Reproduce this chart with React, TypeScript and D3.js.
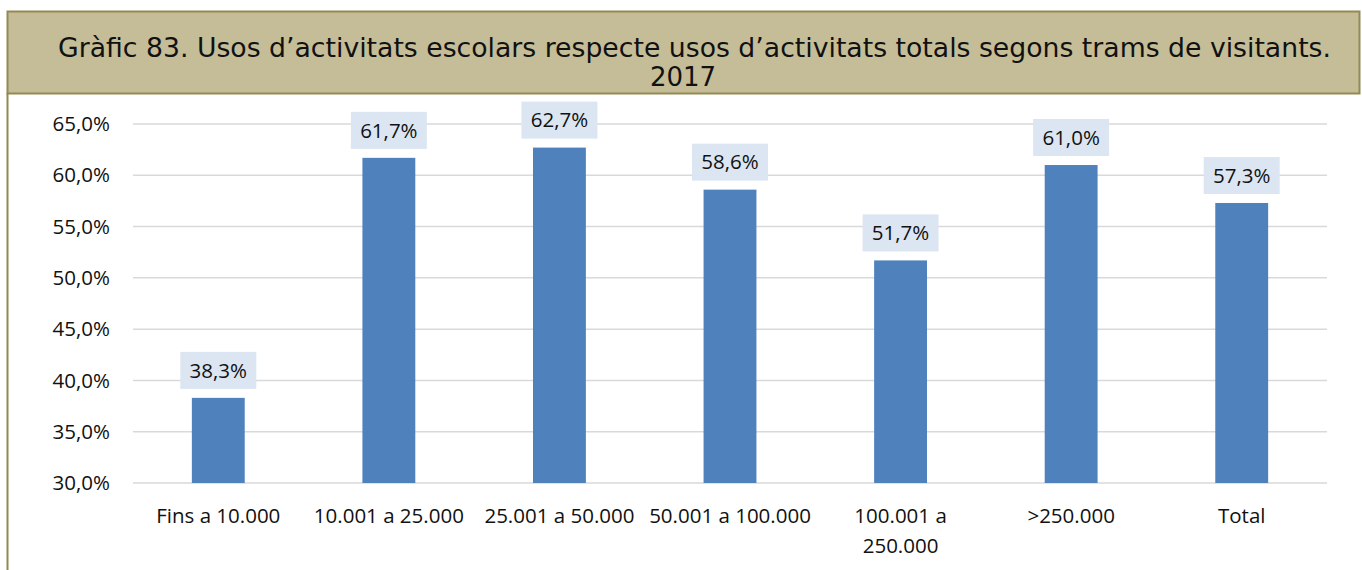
import React from "react";
import * as d3 from "d3";

const categories: string[][] = [
  ["Fins a 10.000"],
  ["10.001 a 25.000"],
  ["25.001 a 50.000"],
  ["50.001 a 100.000"],
  ["100.001 a", "250.000"],
  [">250.000"],
  ["Total"],
];
const values: number[] = [38.3, 61.7, 62.7, 58.6, 51.7, 61.0, 57.3];
const yTicks: number[] = [30, 35, 40, 45, 50, 55, 60, 65];
const titleLines: string[] = [
  "Gràfic 83. Usos d’activitats escolars respecte usos d’activitats totals segons trams de visitants.",
  "2017",
];

const W = 1362;
const H = 570;
const fmt = (v: number) => v.toFixed(1).replace(".", ",") + "%";
const bodyFont = "'Open Sans', 'Noto Sans', sans-serif";
const fs = 20.5;

export default function App() {
  const x = d3
    .scaleBand<number>()
    .domain(d3.range(categories.length))
    .range([133, 1327]);
  const y = d3.scaleLinear().domain([30, 65]).range([483, 124]);
  const bandX = (i: number) => (x(i) as number) + x.bandwidth() / 2;
  const bw = x.bandwidth() * 0.31;

  return (
    <svg
      width={W}
      height={H}
      style={{ position: "absolute", left: 0, top: 0, background: "#fff" }}
    >
      {/* title box */}
      <rect x={7.5} y={11.5} width={1352} height={82} fill="#C4BD97" stroke="#938953" strokeWidth={2} />
      <line x1={7.5} y1={93} x2={7.5} y2={570} stroke="#938953" strokeWidth={2} />
      <text
        x={694.5}
        y={57}
        textAnchor="middle"
        fontFamily="'DejaVu Sans', Verdana, sans-serif"
        fontSize={26}
        fill="#111"
        textLength={1273}
        lengthAdjust="spacingAndGlyphs"
      >
        {titleLines[0]}
      </text>
      <text
        x={683}
        y={86}
        textAnchor="middle"
        fontFamily="'DejaVu Sans', Verdana, sans-serif"
        fontSize={26}
        fill="#111"
      >
        {titleLines[1]}
      </text>
      {/* gridlines */}
      {yTicks.map((t) => (
        <g key={t}>
          <line x1={133} x2={1327} y1={y(t)} y2={y(t)} stroke="#D9D9D9" strokeWidth={1.5} />
          <text
            x={110}
            y={y(t)}
            dy="0.35em"
            textAnchor="end"
            fontFamily={bodyFont}
            fontSize={fs}
            fill="#111"
          >
            {fmt(t)}
          </text>
        </g>
      ))}
      {/* bars */}
      {values.map((v, i) => {
        const cx = bandX(i);
        const top = y(v);
        return (
          <g key={i}>
            <rect x={cx - bw / 2} y={top} width={bw} height={y(30) - top} fill="#4F81BD" />
            <rect x={cx - 38} y={top - 46} width={76} height={37} fill="#DCE6F2" />
            <text
              x={cx}
              y={top - 27.5}
              dy="0.35em"
              textAnchor="middle"
              fontFamily={bodyFont}
              fontSize={fs}
              fill="#111"
            >
              {fmt(v)}
            </text>
          </g>
        );
      })}
      {/* x labels */}
      {categories.map((lines, i) => (
        <text
          key={i}
          x={bandX(i)}
          y={523}
          textAnchor="middle"
          fontFamily={bodyFont}
          fontSize={fs}
          fill="#111"
        >
          {lines.map((l, j) => (
            <tspan key={j} x={bandX(i)} dy={j === 0 ? 0 : 30}>
              {l}
            </tspan>
          ))}
        </text>
      ))}
    </svg>
  );
}
